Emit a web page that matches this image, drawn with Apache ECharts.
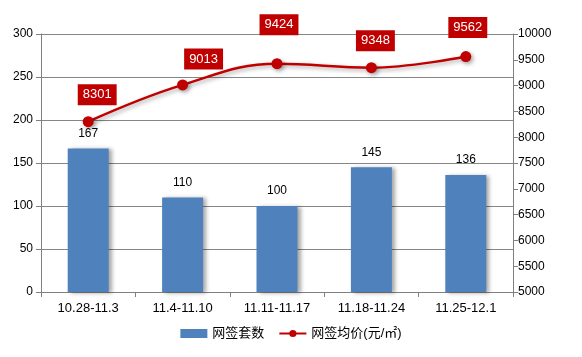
<!DOCTYPE html>
<html><head><meta charset="utf-8">
<script src="https://cdn.jsdelivr.net/npm/echarts@6/dist/echarts.min.js"></script>
<style>html,body{margin:0;padding:0;background:#fff}#c{width:582px;height:357px}</style>
</head><body><div id="c"></div>
<script>
const categories = ['10.28-11.3','11.4-11.10','11.11-11.17','11.18-11.24','11.25-12.1'];
const countValues = [167, 110, 100, 145, 136];
const priceValues = [8301, 9013, 9424, 9348, 9562];
const leftTicks = [0, 300, 50];
const rightTicks = [5000, 10000, 500];
const labelOffsets = [[9,-24],[21,-23],[2,-36],[4,-24],[2,-26]];

const font = 'Liberation Sans, "Noto Sans CJK SC", sans-serif';
const chart = echarts.init(document.getElementById('c'));
chart.setOption({
  animation: false,
  textStyle: {fontFamily: font},
  grid: {left: 41, right: 69, top: 34, bottom: 65},
  legend: {
    bottom: 12, left: 'center', itemWidth: 27, itemHeight: 9, itemGap: 14,
    textStyle: {fontSize: 13, color: '#000', fontFamily: font},
    data: [{name: '网签套数', icon: 'rect'}, {name: '网签均价(元/㎡)'}]
  },
  xAxis: {
    type: 'category', data: categories,
    axisLine: {lineStyle: {color: '#808080'}},
    axisTick: {show: true, length: 5, lineStyle: {color: '#808080'}},
    axisLabel: {color: '#000', fontSize: 13, margin: 10, fontFamily: font}
  },
  yAxis: [{
    type: 'value', min: leftTicks[0], max: leftTicks[1], interval: leftTicks[2],
    axisLine: {show: true, lineStyle: {color: '#808080'}},
    axisTick: {show: true, length: 5, lineStyle: {color: '#808080'}},
    splitLine: {lineStyle: {color: '#868686'}},
    axisLabel: {color: '#000', fontSize: 12, margin: 8, fontFamily: font}
  }, {
    type: 'value', min: rightTicks[0], max: rightTicks[1], interval: rightTicks[2],
    position: 'right',
    axisLine: {show: true, lineStyle: {color: '#808080'}},
    axisTick: {show: true, length: 5, lineStyle: {color: '#808080'}},
    splitLine: {show: false},
    axisLabel: {color: '#000', fontSize: 12, margin: 5, fontFamily: font, formatter: v => String(v)}
  }],
  series: [{
    name: '网签套数', type: 'bar', data: countValues, barWidth: 41,
    itemStyle: {color: '#4f81bd', shadowColor: 'rgba(0,0,0,0.35)', shadowBlur: 4, shadowOffsetX: 3, shadowOffsetY: 1},
    label: {show: true, position: 'top', distance: 9, color: '#000', fontSize: 12, fontFamily: font}
  }, {
    name: '网签均价(元/㎡)', type: 'line', yAxisIndex: 1, smooth: 0.4,
    data: priceValues.map((v, i) => ({value: v, label: {offset: [labelOffsets[i][0], 0], distance: labelOffsets[i][1] * -1 - 13}})),
    symbol: 'circle', symbolSize: 11,
    lineStyle: {color: '#c00000', width: 2.5, shadowColor: 'rgba(0,0,0,0.35)', shadowBlur: 4, shadowOffsetX: 2, shadowOffsetY: 2},
    itemStyle: {color: '#c00000', shadowColor: 'rgba(0,0,0,0.35)', shadowBlur: 4, shadowOffsetX: 2, shadowOffsetY: 2},
    label: {show: true, position: 'top', color: '#fff', backgroundColor: '#c00000', padding: [4, 5, 4, 5], fontSize: 13, fontFamily: font}
  }]
});
</script></body></html>
